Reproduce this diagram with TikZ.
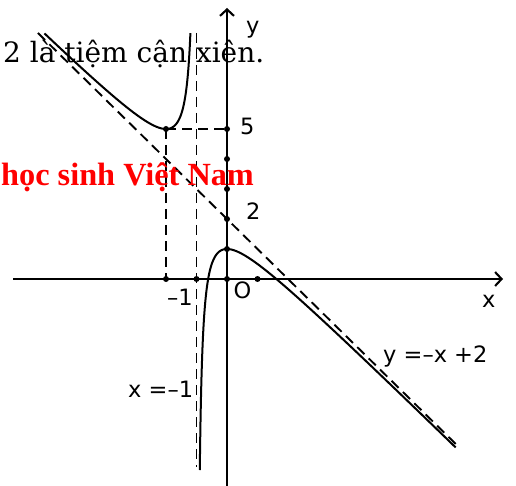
\documentclass[tikz,border=0pt]{standalone}
\usepackage{fontspec}
\newfontfamily\labfont{DejaVu Sans}
\newfontfamily\serfont{DejaVu Serif}
\newfontfamily\timfont{Liberation Serif}
\usetikzlibrary{arrows.meta}
\definecolor{wmred}{RGB}{255,0,0}
\begin{document}
\begin{tikzpicture}[x=1pt,y=-1pt,
  axis/.style={line width=2.1pt, -{Straight Barb[length=6.5pt,width=14pt,line width=2.1pt]}},
  curve/.style={line width=2pt},
  asym/.style={line width=1.9pt, dash pattern=on 10pt off 6pt},
  dot/.style={circle, fill=black, inner sep=0pt, minimum size=6pt},
  lab/.style={inner sep=0pt, anchor=base west, font=\labfont\fontsize{22.5}{22.5}\selectfont}]
\useasboundingbox (0,0) rectangle (516,486);
\fill[white] (0,0) rectangle (516,486);
% axes
\coordinate (xl) at (13,279);
\coordinate (xr) at (503,279);
\coordinate (yb) at (227,486);
\coordinate (yt) at (227,8);
\draw[axis] (xl) -- (xr);
\draw[axis] (yb) -- (yt);
\begin{scope}[shift={(227,279)}, x=30.5pt, y=30pt]
  % asymptotes and guide lines
  \coordinate (a1) at (-6.2,8.2);
  \coordinate (a2) at (7.55,-5.55);
  \coordinate (v1) at (-1,8.2);
  \coordinate (v2) at (-1,-6.27);
  \draw[asym] (a1) -- (a2);
  \draw[asym] (v1) -- (v2);
  \draw[asym] (-2,5) -- (-2,0);
  \draw[asym] (-2,5) -- (0,5);
  % curve branches
  \draw[curve, variable=\s, domain=-1.609:1.609, samples=200]
    plot ({-1-exp(\s)}, {3+exp(\s)+exp(-\s)});
  \draw[curve, variable=\s, domain=-2.2256:2.140, samples=250]
    plot ({-1+exp(\s)}, {3-exp(\s)-exp(-\s)});
  % dots
  \node[dot] (pmin) at (-2,5) {};
  \node[dot] (y5) at (0,5) {};
  \node[dot] (y4) at (0,4) {};
  \node[dot] (y3) at (0,3) {};
  \node[dot] (y2) at (0,2) {};
  \node[dot] (y1) at (0,1) {};
  \node[dot] (xm2) at (-2,0) {};
  \node[dot] (xm1) at (-1,0) {};
  \node[dot] (o) at (0,0) {};
  \node[dot] (x1) at (1,0) {};
\end{scope}
% labels
\node[lab] (ly) at (246,34) {y};
\node[lab] (lx) at (482,307) {x};
\node[lab] (l5) at (240,135) {5};
\node[lab] (l2) at (246,219) {2};
\node[lab] (lO) at (233.5,298) {O};
\node[lab] (lm1) at (167,305) {–1};
\node[lab] (lasy) at (383,362) {y =–x +2};
\node[lab] (lasx) at (128,397) {x =–1};
% overlay texts
\node[inner sep=0pt, anchor=base west, font=\serfont\fontsize{28}{28}\selectfont] (t1) at (3,63) {2 là tiệm cận xiên.};
\node[inner sep=0pt, anchor=base west, text=wmred, font=\timfont\bfseries\fontsize{32.3}{32.3}\selectfont] (t2) at (1,186) {học sinh Việt Nam};
\end{tikzpicture}
\end{document}
